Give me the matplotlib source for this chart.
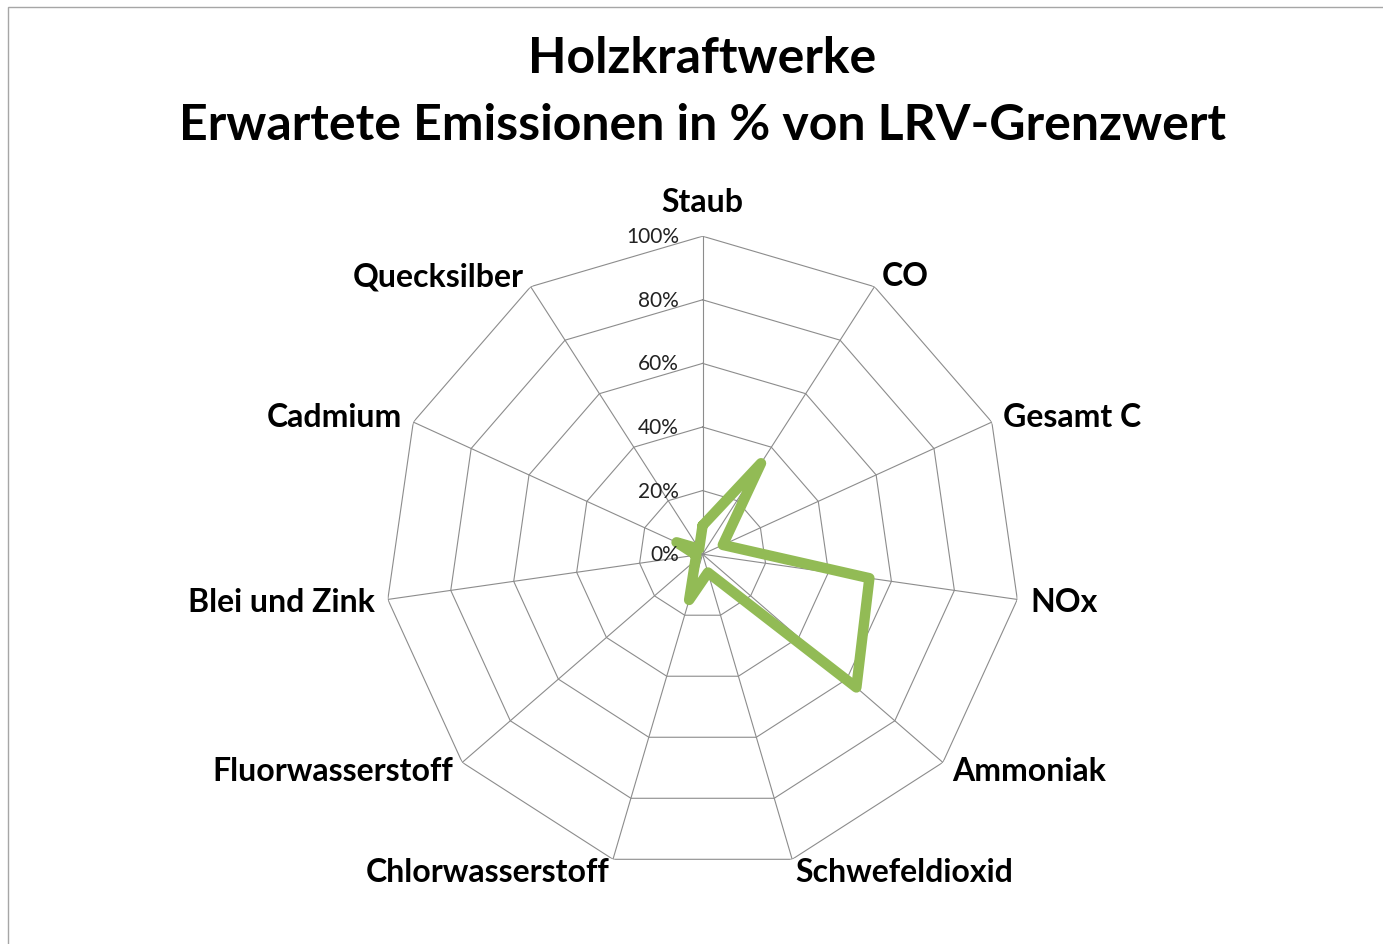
import numpy as np
import matplotlib.pyplot as plt
from matplotlib.patches import Rectangle

# Daten (in % vom LRV-Grenzwert)
categories = ['Staub', 'CO', 'Gesamt C', 'NOx', 'Ammoniak', 'Schwefeldioxid',
              'Chlorwasserstoff', 'Fluorwasserstoff', 'Blei und Zink',
              'Cadmium', 'Quecksilber']
values = [9, 34, 7, 53, 64, 6, 15, 3, 2, 9, 2]
rings = [20, 40, 60, 80, 100]
ring_labels = ['0%', '20%', '40%', '60%', '80%', '100%']

plt.rcParams['font.family'] = ['Lato', 'DejaVu Sans']

fig = plt.figure(figsize=(13.83, 9.45), dpi=100)
fig.patches.append(Rectangle((8 / 1383, -0.1), 1.2, 1.1 - 8 / 945,
                             transform=fig.transFigure, fill=False,
                             edgecolor='#a6a6a6', lw=1.0))

ax = fig.add_axes([0.278, 0.076, 0.46, 0.673], projection='polar')
ax.set_theta_zero_location('N')
ax.set_theta_direction(-1)
ax.set_ylim(0, 100)
ax.grid(False)
ax.spines['polar'].set_visible(False)
ax.set_xticks([])
ax.set_yticks([])
ax.patch.set_alpha(0)

n = len(categories)
angles = np.linspace(0, 2 * np.pi, n, endpoint=False)
closed = np.append(angles, angles[0])

# Netz (Polygone und Speichen)
for r in rings:
    ax.plot(closed, [r] * (n + 1), color='#8c8c8c', lw=0.8, zorder=1)
for a in angles:
    ax.plot([a, a], [0, 100], color='#8c8c8c', lw=0.8, zorder=1)

# Datenreihe
vals = values + values[:1]
ax.plot(closed, vals, color='#92bb55', lw=7.5, solid_joinstyle='round',
        solid_capstyle='round', zorder=3)

# Achsenbeschriftung (Prozent)
for i, lab in enumerate(ring_labels):
    ax.annotate(lab, xy=(0, i * 20), xytext=(-17, 0), textcoords='offset points',
                ha='right', va='center', fontsize=15, color='#222222')

# Kategorien
for a, lab in zip(angles, categories):
    s = np.sin(a)
    if abs(s) < 0.05:
        ha = 'center'
        r = 111
    elif s > 0:
        ha = 'left'
        r = 104
    else:
        ha = 'right'
        r = 104
    ax.text(a, r, lab, ha=ha, va='center', fontsize=23, fontweight='bold')

fig.text(0.508, 0.938, 'Holzkraftwerke', ha='center', va='center',
         fontsize=36, fontweight='bold')
fig.text(0.508, 0.867, 'Erwartete Emissionen in % von LRV-Grenzwert',
         ha='center', va='center', fontsize=36, fontweight='bold')

fig.savefig('out.png', dpi=100)
